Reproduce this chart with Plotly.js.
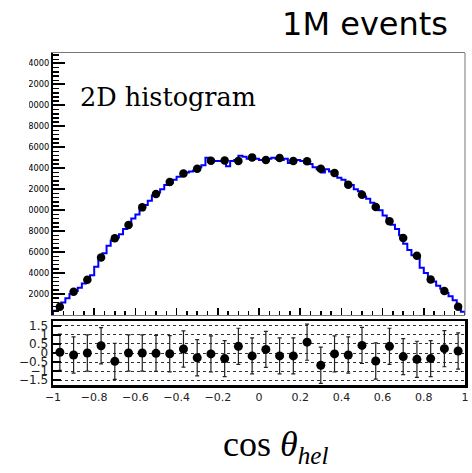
<!DOCTYPE html>
<html>
<head>
<meta charset="utf-8">
<script src="https://cdn.plot.ly/plotly-3.0.1.min.js"></script>
<style>
  html, body { margin: 0; padding: 0; background: #ffffff; }
  #chart { width: 472px; height: 473px; }
</style>
</head>
<body>
<div id="chart"></div>
<script>
// cos(theta_hel) range
const X_MIN = -1;
const X_MAX = 1;

// Fine-binned 2D-histogram projection (100 bins), drawn as a step line
const histCounts = [
  400, 800, 1200, 1600, 2000, 2300, 2600, 3000, 3300, 3800,
  4600, 5300, 5900, 6600, 7100, 7400, 7700, 8200, 8600, 9200,
  9600, 10200, 10500, 10900, 11400, 11700, 12000, 12400, 12600, 12900,
  13200, 13400, 13600, 13700, 13800, 14100, 14300, 15000, 14800, 14700,
  14700, 14800, 14200, 14700, 14800, 15200, 15100, 14900, 14900, 14900,
  14800, 14800, 14900, 15000, 14900, 14800, 14900, 14500, 14700, 14800,
  14700, 14500, 14400, 14100, 13900, 13600, 13900, 13700, 13400, 13100,
  12900, 12500, 12400, 12000, 11800, 11300, 11100, 10700, 10300, 10000,
  9500, 8900, 8600, 8200, 7600, 6800, 6200, 5700, 5600, 4500,
  4000, 3600, 3200, 2800, 2500, 2100, 1800, 1400, 900, 300
];

// Event counts in 30 coarse bins (black points)
const dataCounts = [
  790, 2210, 3370, 5480, 7320, 8580, 10270, 11540, 12680, 13510,
  13950, 14720, 14750, 14690, 15040, 14780, 14970, 14690, 14660, 13950,
  13540, 12430, 11470, 10300, 8940, 7340, 5660, 3390, 2290, 790
];

// Pull of each coarse bin, with its uncertainty
const pullValues = [
  0.04, -0.11, 0.00, 0.40, -0.46, 0.00, 0.00, -0.02, -0.04, 0.22,
  -0.26, -0.05, -0.31, 0.37, -0.16, 0.20, -0.16, -0.16, 0.60, -0.68,
  -0.05, -0.11, 0.42, -0.44, 0.37, -0.20, -0.35, -0.31, 0.24, 0.11
];
const pullErrors = [
  1, 1, 1, 1, 1, 1, 1, 1, 1, 1,
  1, 1, 1, 1, 1, 1, 1, 1, 1, 1,
  1, 1, 1, 1, 1, 1, 1, 1, 1, 1
];

// Axis ticks
const countTickVals = [2000, 4000, 6000, 8000, 10000, 12000, 14000, 16000, 18000, 20000, 22000, 24000];
const pullTickVals = [-1.5, -1, -0.5, 0, 0.5, 1, 1.5];
const xTickVals = [-1, -0.8, -0.6, -0.4, -0.2, 0, 0.2, 0.4, 0.6, 0.8, 1];

// Bin geometry
const fineWidth = (X_MAX - X_MIN) / histCounts.length;
const coarseWidth = (X_MAX - X_MIN) / dataCounts.length;
const coarseCenters = dataCounts.map((_, i) => X_MIN + (i + 0.5) * coarseWidth);

// Step outline: rise from zero at the left edge, fall to zero at the right edge
const stepX = [X_MIN];
const stepY = [0];
histCounts.forEach((c, i) => { stepX.push(X_MIN + i * fineWidth); stepY.push(c); });
stepX.push(X_MAX);
stepY.push(0);

const W = 472, H = 473;
const M = { l: 53, r: 7, t: 53, b: 88 };
const plotH = H - M.t - M.b;
const upperBottom = (H - M.b - 315) / plotH;   // upper pad starts at y = 315 px
const lowerTop = (H - M.b - 321) / plotH;      // lower pad ends at y = 321 px
const px2paperX = px => (px - M.l) / (W - M.l - M.r);
const px2paperY = py => (H - M.b - py) / plotH;

const traces = [
  {
    x: stepX, y: stepY, xaxis: 'x', yaxis: 'y',
    type: 'scatter', mode: 'lines',
    line: { shape: 'hv', color: '#0000ff', width: 2 },
    hoverinfo: 'skip'
  },
  {
    x: coarseCenters, y: dataCounts, xaxis: 'x', yaxis: 'y',
    type: 'scatter', mode: 'markers',
    marker: { color: '#000000', size: 8.5 }
  },
  {
    x: coarseCenters, y: pullValues, xaxis: 'x2', yaxis: 'y2',
    type: 'scatter', mode: 'markers',
    marker: { color: '#000000', size: 9 },
    error_y: { type: 'data', array: pullErrors, visible: true, color: '#222222', thickness: 1.2, width: 2 }
  }
];

const sans = 'DejaVu Sans, Liberation Sans, sans-serif';

const layout = {
  width: W, height: H,
  margin: M,
  paper_bgcolor: '#ffffff', plot_bgcolor: '#ffffff',
  showlegend: false,
  title: {
    text: '1M events',
    xref: 'container', yref: 'container',
    x: 448 / W, xanchor: 'right',
    y: 1 - 24 / H, yanchor: 'middle',
    font: { family: sans, size: 32, color: '#000000' }
  },
  xaxis: {
    domain: [0, 1], anchor: 'y', range: [X_MIN, X_MAX],
    showgrid: false, zeroline: false,
    showline: true, linecolor: '#777777', linewidth: 1, mirror: true,
    ticks: 'inside', ticklen: 7, tickwidth: 1.5, tickcolor: '#000000',
    tickvals: xTickVals, showticklabels: false,
    minor: { ticks: 'inside', ticklen: 4, tickwidth: 1.5, tickcolor: '#000000', dtick: 0.05, showgrid: false }
  },
  yaxis: {
    domain: [upperBottom, 1], anchor: 'x', range: [0, 25000],
    showgrid: false, zeroline: false,
    showline: true, linecolor: '#000000', linewidth: 2,
    ticks: 'inside', ticklen: 12, tickwidth: 2, tickcolor: '#000000',
    tickvals: countTickVals, tickformat: 'd',
    tickfont: { family: sans, size: 8.3, color: '#000000' },
    minor: { ticks: 'inside', ticklen: 6, tickwidth: 1.5, tickcolor: '#000000', dtick: 400, showgrid: false }
  },
  xaxis2: {
    domain: [0, 1], anchor: 'y2', range: [X_MIN, X_MAX],
    showgrid: false, zeroline: false,
    showline: true, linecolor: '#000000', linewidth: 2.5, mirror: true,
    ticks: '', tickvals: xTickVals,
    tickfont: { family: sans, size: 11, color: '#222222' }
  },
  yaxis2: {
    domain: [0, lowerTop], anchor: 'x2', range: [-1.77, 1.77],
    showgrid: true, gridcolor: '#333333', gridwidth: 1, griddash: 'dot',
    zeroline: false,
    showline: true, linecolor: '#000000', linewidth: 2.5, mirror: true,
    ticks: 'inside', ticklen: 8, tickwidth: 2, tickcolor: '#000000',
    tickvals: pullTickVals,
    tickfont: { family: sans, size: 12, color: '#222222' }
  },
  shapes: [
    // thin grey right edge of the upper frame
    { type: 'line', xref: 'paper', yref: 'paper', x0: 1, x1: 1, y0: upperBottom, y1: 1,
      line: { color: '#777777', width: 1 }, layer: 'above' },
    // the upper pad is narrower than the page, so its tick labels are cut at its left edge
    { type: 'rect', xref: 'paper', yref: 'paper',
      x0: px2paperX(-5), x1: px2paperX(29), y0: upperBottom - 0.01, y1: 1.05,
      fillcolor: '#ffffff', line: { width: 0 }, layer: 'above' }
  ],
  annotations: [
    {
      text: '2D histogram', showarrow: false,
      xref: 'paper', yref: 'paper',
      x: px2paperX(78), xanchor: 'left',
      y: px2paperY(97), yanchor: 'middle',
      font: { family: 'DejaVu Serif, Liberation Serif, serif', size: 25.5, color: '#000000' }
    },
    {
      text: 'cos <i>θ</i><sub><i>hel</i></sub>', showarrow: false,
      xref: 'paper', yref: 'paper',
      x: px2paperX(221), xanchor: 'left',
      y: px2paperY(446), yanchor: 'middle',
      font: { family: 'Liberation Serif, DejaVu Serif, serif', size: 36, color: '#000000' }
    }
  ]
};

Plotly.newPlot('chart', traces, layout, { staticPlot: true, displayModeBar: false });
</script>
</body>
</html>
